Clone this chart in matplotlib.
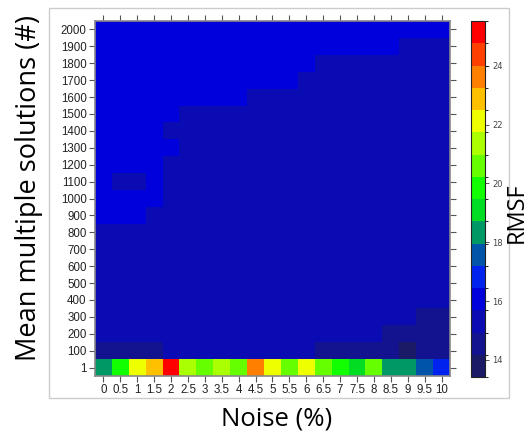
import numpy as np
import matplotlib
matplotlib.use("Agg")
import matplotlib.pyplot as plt
from matplotlib.colors import ListedColormap, BoundaryNorm
from matplotlib.patches import Rectangle

noise_labels = ["0", "0.5", "1", "1.5", "2", "2.5", "3", "3.5", "4", "4.5", "5",
                "5.5", "6", "6.5", "7", "7.5", "8", "8.5", "9", "9.5", "10"]
solution_labels = ["1", "100", "200", "300", "400", "500", "600", "700", "800", "900",
                   "1000", "1100", "1200", "1300", "1400", "1500", "1600", "1700",
                   "1800", "1900", "2000"]

# RMSF values, one list per "mean multiple solutions" row (bottom -> top)
rmsf_rows = [
    [18.3, 19.8, 22.1, 22.9, 25.2, 21.3, 20.6, 21.4, 20.5, 23.6, 22.0, 20.6, 22.2, 20.7, 19.8, 19.1, 20.5, 18.4, 18.3, 17.5, 16.8],  # 1
    [14.6, 14.6, 14.6, 14.6, 15.3, 15.3, 15.3, 15.3, 15.3, 15.3, 15.3, 15.3, 15.3, 14.6, 14.6, 14.6, 14.6, 14.6, 13.8, 14.6, 14.6],  # 100
    [15.3, 15.3, 15.3, 15.3, 15.3, 15.3, 15.3, 15.3, 15.3, 15.3, 15.3, 15.3, 15.3, 15.3, 15.3, 15.3, 15.3, 14.6, 14.6, 14.6, 14.6],  # 200
    [15.3, 15.3, 15.3, 15.3, 15.3, 15.3, 15.3, 15.3, 15.3, 15.3, 15.3, 15.3, 15.3, 15.3, 15.3, 15.3, 15.3, 15.3, 15.3, 14.6, 14.6],  # 300
    [15.3, 15.3, 15.3, 15.3, 15.3, 15.3, 15.3, 15.3, 15.3, 15.3, 15.3, 15.3, 15.3, 15.3, 15.3, 15.3, 15.3, 15.3, 15.3, 15.3, 15.3],  # 400
    [15.3, 15.3, 15.3, 15.3, 15.3, 15.3, 15.3, 15.3, 15.3, 15.3, 15.3, 15.3, 15.3, 15.3, 15.3, 15.3, 15.3, 15.3, 15.3, 15.3, 15.3],  # 500
    [15.3, 15.3, 15.3, 15.3, 15.3, 15.3, 15.3, 15.3, 15.3, 15.3, 15.3, 15.3, 15.3, 15.3, 15.3, 15.3, 15.3, 15.3, 15.3, 15.3, 15.3],  # 600
    [15.3, 15.3, 15.3, 15.3, 15.3, 15.3, 15.3, 15.3, 15.3, 15.3, 15.3, 15.3, 15.3, 15.3, 15.3, 15.3, 15.3, 15.3, 15.3, 15.3, 15.3],  # 700
    [15.3, 15.3, 15.3, 15.3, 15.3, 15.3, 15.3, 15.3, 15.3, 15.3, 15.3, 15.3, 15.3, 15.3, 15.3, 15.3, 15.3, 15.3, 15.3, 15.3, 15.3],  # 800
    [16.0, 16.0, 16.0, 15.3, 15.3, 15.3, 15.3, 15.3, 15.3, 15.3, 15.3, 15.3, 15.3, 15.3, 15.3, 15.3, 15.3, 15.3, 15.3, 15.3, 15.3],  # 900
    [16.0, 16.0, 16.0, 16.0, 15.3, 15.3, 15.3, 15.3, 15.3, 15.3, 15.3, 15.3, 15.3, 15.3, 15.3, 15.3, 15.3, 15.3, 15.3, 15.3, 15.3],  # 1000
    [16.0, 15.3, 15.3, 16.0, 15.3, 15.3, 15.3, 15.3, 15.3, 15.3, 15.3, 15.3, 15.3, 15.3, 15.3, 15.3, 15.3, 15.3, 15.3, 15.3, 15.3],  # 1100
    [16.0, 16.0, 16.0, 16.0, 15.3, 15.3, 15.3, 15.3, 15.3, 15.3, 15.3, 15.3, 15.3, 15.3, 15.3, 15.3, 15.3, 15.3, 15.3, 15.3, 15.3],  # 1200
    [16.0, 16.0, 16.0, 16.0, 16.0, 15.3, 15.3, 15.3, 15.3, 15.3, 15.3, 15.3, 15.3, 15.3, 15.3, 15.3, 15.3, 15.3, 15.3, 15.3, 15.3],  # 1300
    [16.0, 16.0, 16.0, 16.0, 15.3, 15.3, 15.3, 15.3, 15.3, 15.3, 15.3, 15.3, 15.3, 15.3, 15.3, 15.3, 15.3, 15.3, 15.3, 15.3, 15.3],  # 1400
    [16.0, 16.0, 16.0, 16.0, 16.0, 15.3, 15.3, 15.3, 15.3, 15.3, 15.3, 15.3, 15.3, 15.3, 15.3, 15.3, 15.3, 15.3, 15.3, 15.3, 15.3],  # 1500
    [16.0, 16.0, 16.0, 16.0, 16.0, 16.0, 16.0, 16.0, 16.0, 15.3, 15.3, 15.3, 15.3, 15.3, 15.3, 15.3, 15.3, 15.3, 15.3, 15.3, 15.3],  # 1600
    [16.0, 16.0, 16.0, 16.0, 16.0, 16.0, 16.0, 16.0, 16.0, 16.0, 16.0, 16.0, 15.3, 15.3, 15.3, 15.3, 15.3, 15.3, 15.3, 15.3, 15.3],  # 1700
    [16.0, 16.0, 16.0, 16.0, 16.0, 16.0, 16.0, 16.0, 16.0, 16.0, 16.0, 16.0, 16.0, 15.3, 15.3, 15.3, 15.3, 15.3, 15.3, 15.3, 15.3],  # 1800
    [16.0, 16.0, 16.0, 16.0, 16.0, 16.0, 16.0, 16.0, 16.0, 16.0, 16.0, 16.0, 16.0, 16.0, 16.0, 16.0, 16.0, 16.0, 15.3, 15.3, 15.3],  # 1900
    [16.0, 16.0, 16.0, 16.0, 16.0, 16.0, 16.0, 16.0, 16.0, 16.0, 16.0, 16.0, 16.0, 16.0, 16.0, 16.0, 16.0, 16.0, 16.0, 16.0, 16.0],  # 2000
]

level_min, level_max, n_levels = 13.42, 25.52, 16
level_colors = ["#1a1a66", "#131390", "#0b0bb3", "#0000dd", "#0022ee", "#0055aa",
                "#009966", "#00dd22", "#11ff00", "#66ff00", "#aaff00", "#eeff00",
                "#ffc000", "#ff8000", "#ff4000", "#ff0000"]
cbar_ticks = [14, 16, 18, 20, 22, 24]

W, H = 530, 437
fig = plt.figure(figsize=(W / 100, H / 100), dpi=100)

levels = np.linspace(level_min, level_max, n_levels + 1)
cmap = ListedColormap(level_colors)
norm = BoundaryNorm(levels, cmap.N)

data = np.array(rmsf_rows)
ax = fig.add_axes([95 / W, 1 - 376 / H, 355 / W, 355 / H])
im = ax.imshow(data, origin="lower", cmap=cmap, norm=norm, aspect="auto",
               interpolation="nearest")

tick_font = dict(family="Liberation Sans", size=8.3, color="#222222")
ax.set_xticks(range(len(noise_labels)))
ax.set_xticklabels(noise_labels, fontdict=tick_font)
ax.set_yticks(range(len(solution_labels)))
ax.set_yticklabels(solution_labels, fontdict=tick_font)
ax.tick_params(direction="out", length=4, width=0.8, color="#555555",
               top=True, right=True, labeltop=False, labelright=False, pad=2)
for s in ax.spines.values():
    s.set_edgecolor("#888888")
    s.set_linewidth(1.2)

cax = fig.add_axes([471 / W, 1 - 377 / H, 14 / W, 356 / H])
cb = fig.colorbar(im, cax=cax, ticks=cbar_ticks)
cb.outline.set_edgecolor("#222222")
cb.outline.set_linewidth(0.8)
cax.tick_params(labelsize=6, length=3, width=0.7, color="#555555",
                labelcolor="#444444", pad=2)
cb.set_ticklabels([str(t) for t in cbar_ticks])

fig.patches.append(Rectangle((49 / W, 1 - 398 / H), 460 / W, 390 / H,
                             transform=fig.transFigure, fill=False,
                             ec="#cccccc", lw=1))

fig.text(29 / W, 1 - 188 / H, "Mean multiple solutions (#)", rotation=90,
         ha="center", va="center", fontsize=19.5, family="Open Sans", color="black")
fig.text(277 / W, 1 - 425 / H, "Noise (%)", ha="center", va="baseline",
         fontsize=18.5, family="Open Sans", color="black")
fig.text(529 / W, 1 - 213 / H, "RMSF", rotation=90, ha="right", va="center",
         fontsize=17, family="Open Sans", color="black")

fig.savefig("out.png", dpi=100)
